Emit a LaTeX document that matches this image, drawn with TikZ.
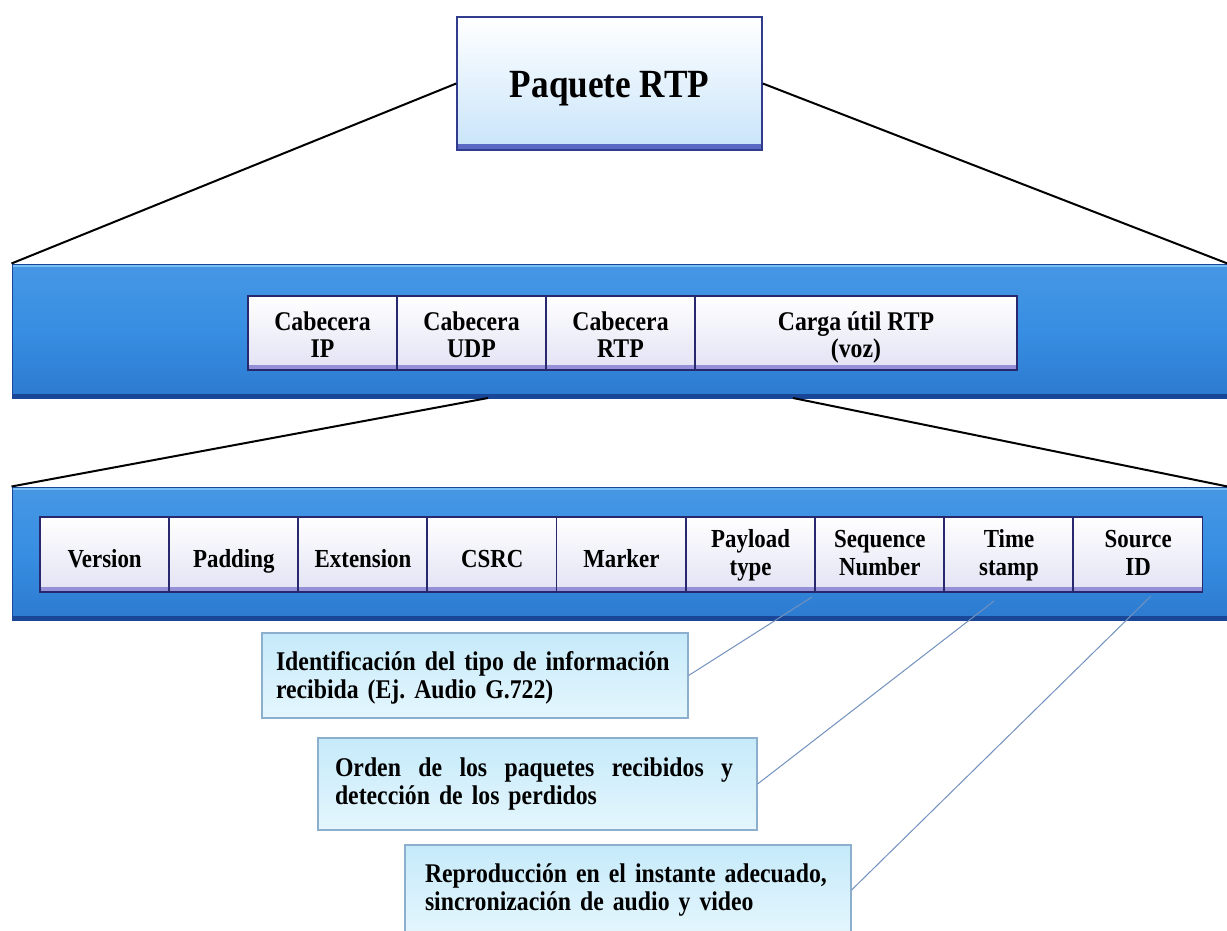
\documentclass[tikz,border=0pt]{standalone}
\usepackage{fontspec}
\newfontfamily\lblfont{Liberation Serif}[FakeStretch=0.88]
\usetikzlibrary{calc}

\definecolor{bandtop}{RGB}{120,190,245}
\definecolor{bandmid}{RGB}{55,142,226}
\definecolor{bandbot}{RGB}{44,122,208}
\definecolor{bandedge}{RGB}{25,70,150}
\definecolor{fieldbot}{RGB}{226,226,244}
\definecolor{fieldedge}{RGB}{40,40,110}
\definecolor{fieldstrip}{RGB}{150,145,215}
\definecolor{titlebot}{RGB}{200,228,250}
\definecolor{titleedge}{RGB}{50,60,140}
\definecolor{titlestrip}{RGB}{90,105,195}
\definecolor{callouttop}{RGB}{198,234,250}
\definecolor{calloutbot}{RGB}{228,246,253}
\definecolor{calloutedge}{RGB}{140,175,205}
\definecolor{leader}{RGB}{115,145,190}

% fixed line struts: \lnstrut{height}{depth}
\newcommand\lnstrut[2]{\rule[-#2]{0pt}{\dimexpr#1+#2\relax}}
% a line spread out to a given width
\newcommand\spreadline[2]{\makebox[#1][s]{\spaceskip=.3333em plus 1em\relax #2}}

\frenchspacing

\begin{document}
\begin{tikzpicture}[x=1pt,y=-1pt,
  titlebox/.style={rectangle, inner sep=0pt, minimum width=305pt, minimum height=133pt,
    text height=29pt, text depth=0pt,
    top color=white, bottom color=titlebot, draw=titleedge, line width=1.5pt,
    font={\lblfont\bfseries\fontsize{40pt}{40pt}\selectfont},
    path picture={
      \fill[titlestrip] (path picture bounding box.south west) rectangle ([yshift=6pt]path picture bounding box.south east);
      \draw[titleedge, line width=3pt] (path picture bounding box.north east) -- (path picture bounding box.south east);}},
  band/.style={rectangle, inner sep=0pt, minimum width=1215pt,
    top color=bandmid!92!white, bottom color=bandbot, middle color=bandmid, draw=bandedge, line width=1pt,
    path picture={
      \fill[bandedge] (path picture bounding box.south west) rectangle ([yshift=4pt]path picture bounding box.south east);
      \fill[bandtop] (path picture bounding box.north west) rectangle ([yshift=-3pt]path picture bounding box.north east);}},
  field/.style={rectangle, inner sep=0pt,
    top color=white, bottom color=fieldbot, draw=fieldedge, line width=1.2pt,
    path picture={
      \fill[fieldstrip] (path picture bounding box.south west) rectangle ([yshift=5pt]path picture bounding box.south east);
      \draw[fieldedge, line width=2.5pt] (path picture bounding box.north east) -- (path picture bounding box.south east);}},
  hdrfield/.style={field, align=center, minimum height=74pt, font={\lblfont\bfseries\fontsize{27pt}{27pt}\selectfont}},
  rtpfield/.style={field, minimum width=129.2pt, minimum height=75pt, font={\lblfont\bfseries\fontsize{26pt}{28pt}\selectfont}},
  oneline/.style={text height=25pt, text depth=0pt},
  twoline/.style={align=center},
  callout/.style={rectangle, inner ysep=0pt, align=left, draw=calloutedge, line width=1.2pt,
    top color=callouttop, bottom color=calloutbot,
    font={\lblfont\bfseries\fontsize{27pt}{28pt}\selectfont}},
  zoomline/.style={draw=black, line width=2pt},
  leaderline/.style={draw=leader, line width=1pt}]

\useasboundingbox[fill=white] (0,0) rectangle (1227,931);

% packet title
\node[titlebox] (title) at (609.5,83.5) {Paquete RTP};

% first band: packet layout
\node[band, minimum height=134pt] (band1) at (619.5,331) {};
\node[hdrfield, minimum width=149pt] (ip)  at (322.5,333) {\lnstrut{28pt}{7pt}Cabecera\\\lnstrut{20pt}{7pt}IP};
\node[hdrfield, minimum width=149pt] (udp) at (471.5,333) {\lnstrut{28pt}{7pt}Cabecera\\\lnstrut{20pt}{7pt}UDP};
\node[hdrfield, minimum width=149pt] (rtp) at (620.5,333) {\lnstrut{28pt}{7pt}Cabecera\\\lnstrut{20pt}{7pt}RTP};
\node[hdrfield, minimum width=322pt] (load) at (856,333) {\lnstrut{28pt}{7pt}Carga útil RTP\\\lnstrut{20pt}{7pt}(voz)};

% second band: RTP header fields
\node[band, minimum height=133pt] (band2) at (619.5,553.5) {};
\node[rtpfield, oneline] (f1) at (104.6,554.5) {Version};
\node[rtpfield, oneline] (f2) at (233.8,554.5) {Padding};
\node[rtpfield, oneline] (f3) at (363.0,554.5) {Extension};
\node[rtpfield, oneline] (f4) at (492.2,554.5) {CSRC};
\node[rtpfield, oneline] (f5) at (621.4,554.5) {Marker};
\node[rtpfield, twoline] (f6) at (750.6,554.5) {\lnstrut{22pt}{7pt}Payload\\\lnstrut{20pt}{9pt}type};
\node[rtpfield, twoline] (f7) at (879.8,554.5) {\lnstrut{22pt}{7pt}Sequence\\\lnstrut{20pt}{9pt}Number};
\node[rtpfield, twoline] (f8) at (1009.0,554.5) {\lnstrut{22pt}{7pt}Time\\\lnstrut{20pt}{9pt}stamp};
\node[rtpfield, twoline] (f9) at (1138.2,554.5) {\lnstrut{22pt}{7pt}Source\\\lnstrut{20pt}{9pt}ID};

% explanatory notes
\node[callout, minimum height=85pt, inner xsep=14pt, text width=398pt] (c1) at (475,675.5)
  {\lnstrut{24pt}{7pt}Identificación del tipo de información\\\lnstrut{21pt}{4pt}recibida (Ej. Audio G.722)};
\node[callout, minimum height=92pt, inner xsep=17pt, text width=405pt] (c2) at (537.5,784)
  {\spreadline{398pt}{Orden de los paquetes recibidos y}\\detección de los perdidos};
\node[callout, minimum height=90pt, inner xsep=20pt, text width=406pt] (c3) at (628,890)
  {Reproducción en el instante adecuado,\\sincronización de audio y video};

% zoom-out lines between levels
\coordinate (b1l) at (488,398);
\coordinate (b1r) at (793,398);
\draw[zoomline] (title.west) -- (band1.north west);
\draw[zoomline] (title.east) -- (band1.north east);
\draw[zoomline] (b1l) -- (band2.north west);
\draw[zoomline] (b1r) -- (band2.north east);

% leaders from notes to fields
\coordinate (p1) at (812,597);
\coordinate (p2) at (994,601);
\coordinate (p3) at (1151,596);
\draw[leaderline] (c1.east) -- (p1);
\draw[leaderline] (c2.east) -- (p2);
\draw[leaderline] (c3.east) -- (p3);

\end{tikzpicture}
\end{document}
